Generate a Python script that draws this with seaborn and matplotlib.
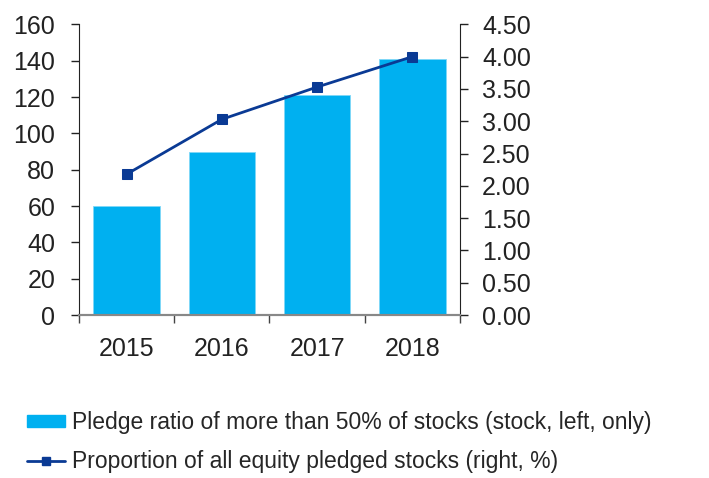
import numpy as np
import pandas as pd
import seaborn as sns
import matplotlib
matplotlib.use("Agg")
import matplotlib.pyplot as plt
from matplotlib.patches import Patch
from matplotlib.lines import Line2D

years = ["2015", "2016", "2017", "2018"]
pledge_count = [60, 90, 121, 141]
pledge_share = [2.18, 3.03, 3.53, 4.00]

bar_label = "Pledge ratio of more than 50% of stocks (stock, left, only)"
line_label = "Proportion of all equity pledged stocks (right, %)"

bar_color = "#00B0F0"
line_color = "#0A3A94"

sns.set_style("white")
plt.rcParams["font.family"] = ["Liberation Sans", "DejaVu Sans"]

df = pd.DataFrame({"year": years, "count": pledge_count, "share": pledge_share})
df["pos"] = np.arange(len(df))

fig = plt.figure(figsize=(7.09, 4.78), dpi=100)
ax = fig.add_axes([0.1114, 0.341, 0.5374, 0.608])

sns.barplot(data=df, x="year", y="count", color=bar_color, width=0.7,
            saturation=1, edgecolor="#7FD8F8", linewidth=0.6, ax=ax)

ax2 = ax.twinx()
sns.lineplot(data=df, x="pos", y="share", color=line_color, linewidth=2,
             marker="s", markersize=7.5, markeredgecolor=line_color, ax=ax2)

ax.set_ylim(0, 160)
ax.set_yticks(np.arange(0, 161, 20))
ax2.set_ylim(0, 4.5)
ax2.set_yticks(np.arange(0, 4.51, 0.5))
ax2.set_yticklabels([f"{v:.2f}" for v in np.arange(0, 4.51, 0.5)])
ax.set_xlim(-0.5, 3.5)
ax2.set_xlim(-0.5, 3.5)

ax.set_xlabel("")
ax.set_ylabel("")
ax2.set_xlabel("")
ax2.set_ylabel("")

# category boundary ticks
ax.set_xticks(np.arange(-0.5, 3.6, 1), minor=True)
ax.tick_params(axis="x", which="major", length=0, labelsize=18, pad=16, colors="#222222")
ax.tick_params(axis="x", which="minor", length=6, width=1, color="#444444", direction="out", bottom=True)
ax.tick_params(axis="y", left=True, length=6, width=1, color="#222222", labelsize=18, pad=11, labelcolor="#222222")
ax2.tick_params(axis="y", right=True, length=6, width=1, color="#222222", labelsize=18, pad=10, labelcolor="#222222")

for a in (ax, ax2):
    a.spines["top"].set_visible(False)
    a.spines["left"].set_color("#222222")
    a.spines["right"].set_color("#222222")
    a.spines["bottom"].set_color("#888888")
    a.spines["bottom"].set_linewidth(1.5)
ax.spines["right"].set_visible(False)
ax2.spines["left"].set_visible(False)

handles = [
    Patch(facecolor=bar_color, edgecolor=bar_color),
    Line2D([0], [0], color=line_color, linewidth=2, marker="s", markersize=6),
]
fig.legend(handles, [bar_label, line_label], loc="upper left",
           bbox_to_anchor=(0.038, 0.14), frameon=False, fontsize=16.5,
           handlelength=1.65, handleheight=0.45, handletextpad=0.3,
           labelspacing=0.7, borderaxespad=0, borderpad=0)

fig.savefig("out.png", dpi=100)
